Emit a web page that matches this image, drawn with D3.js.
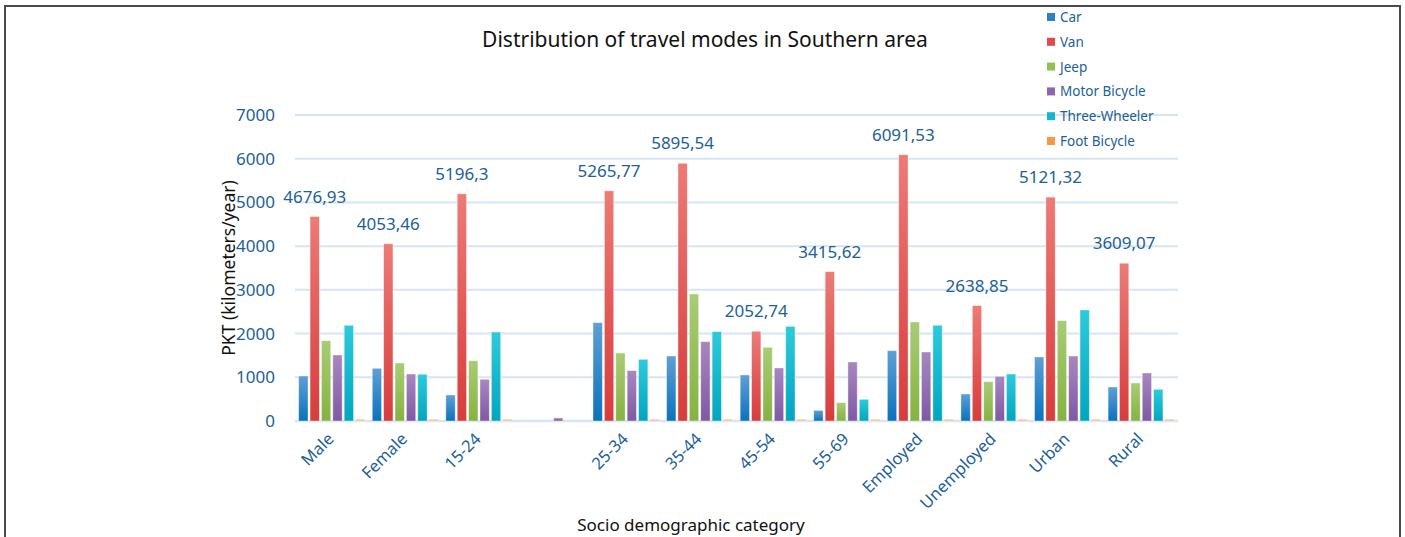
<!DOCTYPE html>
<meta charset="utf-8">
<head>
    <script src="https://d3js.org/d3.v7.min.js"></script>
    <style>
        body { margin: 0; background: white; }
        text { font-family: "Noto Sans", sans-serif; }
    </style>
</head>
<body>
<div id="chart"></div>
<script>
    // categories (the 4th one has no label in the original)
    const categories = ["Male", "Female", "15-24", "", "25-34", "35-44", "45-54", "55-69", "Employed", "Unemployed", "Urban", "Rural"];
    const modes = ["Car", "Van", "Jeep", "Motor Bicycle", "Three-Wheeler", "Foot Bicycle"];

    // values per mode, in category order
    const car          = [1030, 1205, 595, 0, 2250, 1487, 1053, 244, 1609, 618, 1465, 778];
    const van          = [4676.93, 4053.46, 5196.3, 0, 5265.77, 5895.54, 2052.74, 3415.62, 6091.53, 2638.85, 5121.32, 3609.07];
    const jeep         = [1838, 1327, 1380, 0, 1556, 2906, 1686, 420, 2265, 900, 2296, 870];
    const motorBicycle = [1510, 1075, 954, 70, 1152, 1815, 1213, 1350, 1579, 1022, 1487, 1098];
    const threeWheeler = [2190, 1070, 2036, 0, 1411, 2044, 2166, 496, 2190, 1075, 2540, 725];
    const footBicycle  = [45, 45, 45, 0, 45, 45, 45, 45, 45, 45, 45, 45];

    const yTicks = [0, 1000, 2000, 3000, 4000, 5000, 6000, 7000];

    const series = [car, van, jeep, motorBicycle, threeWheeler, footBicycle];

    // gradient top / bottom colours and legend colour for each mode
    const colors = [
        { top: "#5f9fd6", bottom: "#0a72bd", key: "#2e7fc6" },
        { top: "#ec7b76", bottom: "#d83c3c", key: "#e04a4a" },
        { top: "#a9cc76", bottom: "#85b340", key: "#93c052" },
        { top: "#a887c0", bottom: "#8059a3", key: "#8e66ae" },
        { top: "#2ecadc", bottom: "#00a6bf", key: "#12b8d0" },
        { top: "#fbd0a8", bottom: "#f6b888", key: "#f79646" }
    ];

    const width = 1405, height = 537;
    const plotLeft = 295, plotRight = 1178, plotTop = 115, plotBottom = 421;
    const blue = "#215f98";

    const svg = d3.select("#chart").append("svg")
        .attr("width", width)
        .attr("height", height);

    // frame
    svg.append("path")
        .attr("d", `M5,${height} V6 H1400 V${height}`)
        .attr("fill", "none")
        .attr("stroke", "#4a4a4a")
        .attr("stroke-width", 2);

    const defs = svg.append("defs");
    colors.forEach((c, i) => {
        const g = defs.append("linearGradient")
            .attr("id", "grad" + i)
            .attr("x1", 0).attr("y1", 0).attr("x2", 0).attr("y2", 1);
        g.append("stop").attr("offset", "0%").attr("stop-color", c.top);
        g.append("stop").attr("offset", "100%").attr("stop-color", c.bottom);
    });

    const x0 = d3.scaleBand()
        .domain(d3.range(categories.length))
        .range([plotLeft, plotRight])
        .paddingInner(0.1)
        .paddingOuter(0.05);

    const x1 = d3.scaleBand()
        .domain(d3.range(modes.length))
        .range([0, x0.bandwidth()])
        .paddingInner(0.18);

    const y = d3.scaleLinear()
        .domain([0, 7000])
        .range([plotBottom, plotTop]);

    // gridlines
    svg.append("g")
        .selectAll("line")
        .data(yTicks)
        .enter()
        .append("line")
        .attr("x1", plotLeft)
        .attr("x2", plotRight)
        .attr("y1", d => y(d))
        .attr("y2", d => y(d))
        .attr("stroke", "#d5e5f4")
        .attr("stroke-width", d => d === 0 ? 2.5 : 2);

    // y axis labels
    const leftAxis = d3.axisLeft(y)
        .tickValues(yTicks)
        .tickFormat(d3.format("d"))
        .tickSize(0)
        .tickPadding(20);

    svg.append("g")
        .attr("transform", `translate(${plotLeft}, 0)`)
        .call(leftAxis)
        .call(g => g.select(".domain").remove())
        .selectAll("text")
        .attr("fill", blue)
        .style("font-size", "17px")
        .style("font-family", "Noto Sans");

    // bars
    series.forEach((values, s) => {
        svg.append("g")
            .selectAll("rect")
            .data(values)
            .enter()
            .append("rect")
            .attr("x", (d, i) => x0(i) + x1(s))
            .attr("y", d => y(d))
            .attr("width", x1.bandwidth())
            .attr("height", d => plotBottom - y(d))
            .attr("fill", `url(#grad${s})`)
            .attr("stroke", "rgba(255,255,255,0.5)")
            .attr("stroke-width", 0.8);
    });

    // van value labels
    const vanLabels = van.map((v, i) => ({ v, i })).filter(d => d.v > 0);

    svg.append("g")
        .selectAll("text")
        .data(vanLabels)
        .enter()
        .append("text")
        .attr("x", d => x0(d.i) + x1(1) + x1.bandwidth() / 2)
        .attr("y", d => y(d.v) - 14)
        .attr("text-anchor", "middle")
        .attr("fill", blue)
        .style("font-size", "17px")
        .text(d => String(d.v).replace(".", ","));

    // x labels
    svg.append("g")
        .selectAll("text")
        .data(categories)
        .enter()
        .append("text")
        .attr("transform", (d, i) => `translate(${x0(i) + x0.bandwidth() / 2 + 3}, ${plotBottom + 19}) rotate(-45)`)
        .attr("text-anchor", "end")
        .attr("fill", blue)
        .style("font-size", "16.5px")
        .text(d => d);

    // axis titles
    svg.append("text")
        .attr("x", 705)
        .attr("y", 47)
        .attr("text-anchor", "middle")
        .attr("fill", "#111")
        .style("font-size", "21px")
        .text("Distribution of travel modes in Southern area");

    svg.append("text")
        .attr("x", 691)
        .attr("y", 531)
        .attr("text-anchor", "middle")
        .attr("fill", "#111")
        .style("font-size", "17px")
        .text("Socio demographic category");

    svg.append("text")
        .attr("transform", `translate(235, ${(plotTop + plotBottom) / 2}) rotate(-90)`)
        .attr("text-anchor", "middle")
        .attr("fill", "#111")
        .style("font-size", "17.5px")
        .text("PKT (kilometers/year)");

    // legend
    const legend = svg.append("g")
        .attr("transform", "translate(1047, 17)");

    legend.selectAll("rect")
        .data(modes)
        .enter()
        .append("rect")
        .attr("x", 0)
        .attr("y", (d, i) => i * 24.8 - 4)
        .attr("width", 8)
        .attr("height", 8)
        .attr("fill", (d, i) => colors[i].key);

    legend.selectAll("text")
        .data(modes)
        .enter()
        .append("text")
        .attr("x", 13)
        .attr("y", (d, i) => i * 24.8 + 5)
        .attr("fill", blue)
        .style("font-size", "13.5px")
        .text(d => d);
</script>
</body>
